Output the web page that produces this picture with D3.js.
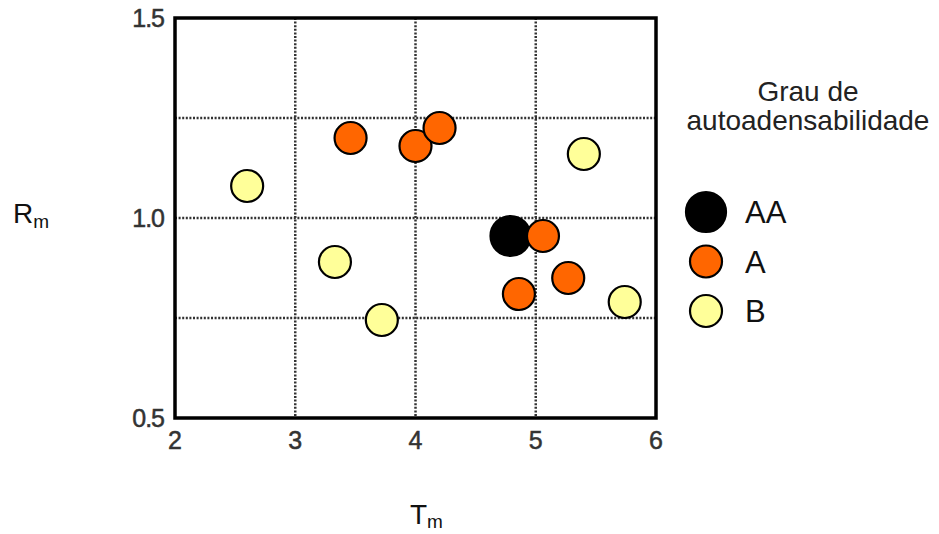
<!DOCTYPE html>
<html>
<head>
<meta charset="utf-8">
<script src="https://cdn.jsdelivr.net/npm/d3@7"></script>
<style>
  body { margin: 0; background: #fff; }
  text { font-family: "Liberation Sans", Arial, sans-serif; }
</style>
</head>
<body>
<svg id="chart" width="939" height="534"></svg>
<script>
// data
const groups = ["AA", "A", "B"];
const groupColors = ["#000000", "#ff6600", "#ffff99"];
const aaPoints = [[4.79, 0.955]];
const aPoints = [[3.46, 1.20], [4.00, 1.18], [4.20, 1.225], [5.06, 0.955], [5.27, 0.85], [4.86, 0.81]];
const bPoints = [[2.60, 1.08], [3.33, 0.89], [3.72, 0.745], [5.40, 1.16], [5.74, 0.79]];
const xTicks = [2, 3, 4, 5, 6];
const yTicks = [0.5, 1.0, 1.5];
const xGrid = [3, 4, 5];
const yGrid = [0.75, 1.0, 1.25];

const svg = d3.select("#chart");

const x = d3.scaleLinear().domain([2, 6]).range([175, 656]);
const y = d3.scaleLinear().domain([0.5, 1.5]).range([418, 18]);

// grid
const grid = svg.append("g");
grid.selectAll("line.gx").data(xGrid).enter().append("line")
  .attr("x1", d => x(d)).attr("x2", d => x(d))
  .attr("y1", y(1.5)).attr("y2", y(0.5))
  .attr("stroke", "#333").attr("stroke-width", 2.5).attr("stroke-dasharray", "2,1.6");
grid.selectAll("line.gy").data(yGrid).enter().append("line")
  .attr("x1", x(2)).attr("x2", x(6))
  .attr("y1", d => y(d)).attr("y2", d => y(d))
  .attr("stroke", "#333").attr("stroke-width", 2.5).attr("stroke-dasharray", "2,1.6");

// frame
svg.append("rect")
  .attr("x", x(2)).attr("y", y(1.5))
  .attr("width", x(6) - x(2)).attr("height", y(0.5) - y(1.5))
  .attr("fill", "none").attr("stroke", "#000").attr("stroke-width", 3.5);

// tick labels
svg.append("g").selectAll("text").data(xTicks).enter().append("text")
  .attr("x", d => x(d)).attr("y", 449)
  .attr("text-anchor", "middle").attr("font-size", 25).attr("fill", "#333")
  .attr("stroke", "#333").attr("stroke-width", 0.5)
  .text(d => d);
svg.append("g").selectAll("text").data(yTicks).enter().append("text")
  .attr("x", 164).attr("y", d => y(d) + 9)
  .attr("text-anchor", "end").attr("font-size", 25).attr("fill", "#333")
  .attr("stroke", "#333").attr("stroke-width", 0.5).attr("letter-spacing", -1)
  .text(d => d.toFixed(1));

// axis titles
const ry = svg.append("text").attr("x", 13).attr("y", 223).attr("font-size", 28).attr("fill", "#111");
ry.append("tspan").text("R");
ry.append("tspan").attr("font-size", 19).attr("dy", 5).text("m");
const tx = svg.append("text").attr("x", 410).attr("y", 524).attr("font-size", 28).attr("fill", "#111");
tx.append("tspan").text("T");
tx.append("tspan").attr("font-size", 19).attr("dy", 4).text("m");

// points
const series = [aaPoints, aPoints, bPoints];
series.forEach((pts, i) => {
  svg.append("g").selectAll("circle").data(pts).enter().append("circle")
    .attr("cx", d => x(d[0])).attr("cy", d => y(d[1]))
    .attr("r", i === 0 ? 20 : 16)
    .attr("fill", groupColors[i])
    .attr("stroke", "#000").attr("stroke-width", 2.2);
});

// legend
const lg = svg.append("g");
lg.append("text").attr("x", 808).attr("y", 101).attr("text-anchor", "middle")
  .attr("font-size", 28).attr("fill", "#222").text("Grau de");
lg.append("text").attr("x", 808).attr("y", 130).attr("text-anchor", "middle")
  .attr("font-size", 28).attr("fill", "#222").text("autoadensabilidade");
const ly = d3.scalePoint().domain(groups).range([212, 311]);
lg.selectAll("circle").data(groups).enter().append("circle")
  .attr("cx", 706).attr("cy", d => ly(d))
  .attr("r", (d, i) => i === 0 ? 20 : 16)
  .attr("fill", (d, i) => groupColors[i])
  .attr("stroke", "#000").attr("stroke-width", 2.2);
lg.selectAll("text.lab").data(groups).enter().append("text")
  .attr("x", 745).attr("y", d => ly(d) + 11)
  .attr("font-size", 31).attr("fill", "#111")
  .text(d => d);
</script>
</body>
</html>
